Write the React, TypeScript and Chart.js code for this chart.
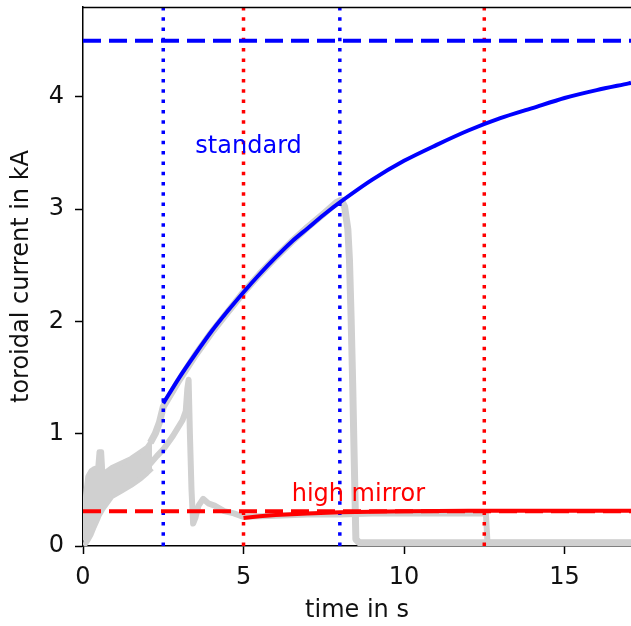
import React, { useEffect, useRef } from "react";
import { Chart, registerables } from "chart.js";

Chart.register(...registerables);

// ---- axis ranges / ticks ----
const xTicks = [0, 5, 10, 15];
const yTicks = [0, 1, 2, 3, 4];
const xMax = 17.07;
const yMax = 4.8;

// ---- reference levels (kA) and marker times (s) ----
const standardLimit = 4.5;
const highMirrorLimit = 0.31;
const standardMarkers = [2.5, 8.0];
const highMirrorMarkers = [5.0, 12.5];

// ---- model curves ----
const standardT = [2.5, 3, 3.5, 4, 4.5, 5, 5.5, 6, 6.5, 7, 7.5, 8, 9, 10, 11, 12, 13, 14, 15, 16, 17, 17.07];
const standardI = [1.27, 1.5, 1.71, 1.91, 2.09, 2.26, 2.42, 2.57, 2.71, 2.83, 2.95, 3.06, 3.26, 3.43, 3.57, 3.7, 3.81, 3.9, 3.99, 4.06, 4.12, 4.125];

const highMirrorT = [5, 5.5, 6, 7, 8, 9, 10, 12, 14, 17.07];
const highMirrorI = [0.25, 0.265, 0.275, 0.29, 0.3, 0.305, 0.31, 0.315, 0.315, 0.315];

// ---- measured traces (grey) ----
// early noisy envelope where both shots overlap
const noiseT = [0.04, 0.08, 0.15, 0.25, 0.35, 0.46, 0.5, 0.58, 0.62, 0.9, 1.2, 1.5, 1.8, 2.0, 2.15];
const noiseUpper = [0.05, 0.45, 0.62, 0.67, 0.69, 0.7, 0.84, 0.84, 0.64, 0.7, 0.74, 0.78, 0.84, 0.88, 0.94];
const noiseLower = [0.0, 0.02, 0.05, 0.1, 0.17, 0.24, 0.27, 0.31, 0.33, 0.44, 0.49, 0.54, 0.6, 0.65, 0.69];

const shotStandardT = [2.1, 2.25, 2.38, 2.5, 3, 3.5, 4, 4.5, 5, 5.5, 6, 6.5, 7, 7.5, 7.9, 8.05, 8.15, 8.25, 8.3, 8.35, 8.4, 8.45, 8.5, 8.6, 10, 12, 14, 17.07];
const shotStandardI = [0.92, 1.0, 1.1, 1.24, 1.48, 1.7, 1.9, 2.08, 2.26, 2.42, 2.57, 2.71, 2.84, 2.96, 3.06, 3.08, 3.02, 2.82, 2.55, 2.05, 1.45, 0.75, 0.06, 0.03, 0.03, 0.03, 0.03, 0.03];

const shotMirrorT = [2.0, 2.3, 2.5, 2.8, 3.1, 3.2, 3.25, 3.29, 3.33, 3.38, 3.43, 3.5, 3.6, 3.74, 3.9, 4.1, 4.4, 4.7, 5.0, 6, 7, 8, 9, 10, 11, 12, 12.55, 12.6, 14, 17.07];
const shotMirrorI = [0.7, 0.8, 0.86, 0.98, 1.12, 1.2, 1.4, 1.48, 1.0, 0.5, 0.2, 0.25, 0.36, 0.42, 0.38, 0.36, 0.31, 0.29, 0.26, 0.27, 0.28, 0.28, 0.29, 0.29, 0.29, 0.29, 0.29, 0.03, 0.03, 0.03];

// ---- annotations ----
const labelTexts = ["standard", "high mirror"];
const labelX = [3.5, 6.5];
const labelY = [3.5, 0.4];
const labelColors = ["#0000ff", "#ff0000"];

const FONT = "'DejaVu Sans', sans-serif";
const FONT_SIZE = 24;
const GREY = "#d0d0d0";
const INK = "#111";

const xy = (ts: number[], vs: number[]) => ts.map((t, i) => ({ x: t, y: vs[i] }));

const extrasPlugin = {
  id: "extras",
  afterDatasetsDraw(chart: any) {
    const { ctx, chartArea, scales } = chart;
    ctx.save();
    // top spine
    ctx.strokeStyle = "#000";
    ctx.lineWidth = 1.5;
    ctx.beginPath();
    ctx.moveTo(chartArea.left, chartArea.top + 0.5);
    ctx.lineTo(chartArea.right, chartArea.top + 0.5);
    ctx.stroke();
    // text labels
    ctx.font = `${FONT_SIZE}px ${FONT}`;
    ctx.textAlign = "left";
    ctx.textBaseline = "alphabetic";
    labelTexts.forEach((t, i) => {
      ctx.fillStyle = labelColors[i];
      ctx.fillText(t, scales.x.getPixelForValue(labelX[i]), scales.y.getPixelForValue(labelY[i]));
    });
    ctx.restore();
  },
};

export default function App() {
  const ref = useRef<HTMLCanvasElement | null>(null);

  useEffect(() => {
    document.body.style.margin = "0";
    const canvas = ref.current;
    if (!canvas) return;

    const lineBase = { pointRadius: 0, fill: false, tension: 0 };

    const datasets: any[] = [
      { ...lineBase, label: "high mirror model", data: xy(highMirrorT, highMirrorI), borderColor: "#ff0000", borderWidth: 4, order: 1 },
      { ...lineBase, label: "standard model", data: xy(standardT, standardI), borderColor: "#0000ff", borderWidth: 4, tension: 0.3, order: 2 },
      { ...lineBase, label: "standard limit", data: xy([0, xMax], [standardLimit, standardLimit]), borderColor: "#0000ff", borderWidth: 4, borderDash: [18, 8], order: 3 },
      { ...lineBase, label: "high mirror limit", data: xy([0, xMax], [highMirrorLimit, highMirrorLimit]), borderColor: "#ff0000", borderWidth: 4, borderDash: [18, 8], order: 3 },
      ...highMirrorMarkers.map((m) => ({ ...lineBase, label: "hm marker", data: xy([m, m], [0, yMax]), borderColor: "#ff0000", borderWidth: 3.5, borderDash: [3.5, 6.8], order: 4 })),
      ...standardMarkers.map((m) => ({ ...lineBase, label: "std marker", data: xy([m, m], [0, yMax]), borderColor: "#0000ff", borderWidth: 3.5, borderDash: [3.5, 6.8], order: 4 })),
      { ...lineBase, label: "shot standard", data: xy(shotStandardT, shotStandardI), borderColor: GREY, borderWidth: 7, borderJoinStyle: "round", order: 5 },
      { ...lineBase, label: "shot mirror", data: xy(shotMirrorT, shotMirrorI), borderColor: GREY, borderWidth: 6, borderJoinStyle: "round", order: 5 },
      { ...lineBase, label: "noise upper", data: xy(noiseT, noiseUpper), borderColor: GREY, borderWidth: 5, borderJoinStyle: "round", order: 6 },
      { ...lineBase, label: "noise lower", data: xy(noiseT, noiseLower), borderColor: GREY, borderWidth: 5, borderJoinStyle: "round", fill: "-1", backgroundColor: GREY, order: 6 },
    ];

    const chart = new Chart(canvas, {
      type: "line",
      data: { datasets },
      plugins: [extrasPlugin],
      options: {
        animation: false,
        responsive: false,
        devicePixelRatio: 1,
        parsing: false,
        layout: { padding: { left: 0, top: 7, right: 0, bottom: 0 } },
        plugins: { legend: { display: false }, tooltip: { enabled: false } },
        scales: {
          x: {
            type: "linear",
            min: 0,
            max: xMax,
            afterFit: (s: any) => { s.height = 80; s.paddingLeft = 0; s.paddingRight = 0; },
            afterBuildTicks: (s: any) => { s.ticks = xTicks.map((v) => ({ value: v })); },
            grid: { drawOnChartArea: false, drawTicks: true, tickLength: 8, tickColor: "#000", tickWidth: 1.5 },
            border: { display: true, color: "#000", width: 1.5 },
            ticks: { color: INK, font: { family: FONT, size: FONT_SIZE }, padding: 9 },
            title: { display: true, text: "time in s", color: INK, font: { family: FONT, size: FONT_SIZE }, padding: { top: 0, bottom: 1 } },
          },
          y: {
            type: "linear",
            min: 0,
            max: yMax,
            afterFit: (s: any) => { s.width = 83; s.paddingTop = 0; s.paddingBottom = 0; },
            afterBuildTicks: (s: any) => { s.ticks = yTicks.map((v) => ({ value: v })); },
            grid: { drawOnChartArea: false, drawTicks: true, tickLength: 8, tickColor: "#000", tickWidth: 1.5 },
            border: { display: true, color: "#000", width: 1.5 },
            ticks: { color: INK, font: { family: FONT, size: FONT_SIZE }, padding: 11 },
            title: { display: true, text: "toroidal current in kA", color: INK, font: { family: FONT, size: FONT_SIZE }, padding: { top: 7, bottom: 0 } },
          },
        },
      } as any,
    });

    return () => chart.destroy();
  }, []);

  return (
    <div style={{ position: "absolute", left: 0, top: 0, width: 631, height: 626 }}>
      <canvas ref={ref} width={631} height={626} style={{ width: 631, height: 626, display: "block" }} />
    </div>
  );
}
